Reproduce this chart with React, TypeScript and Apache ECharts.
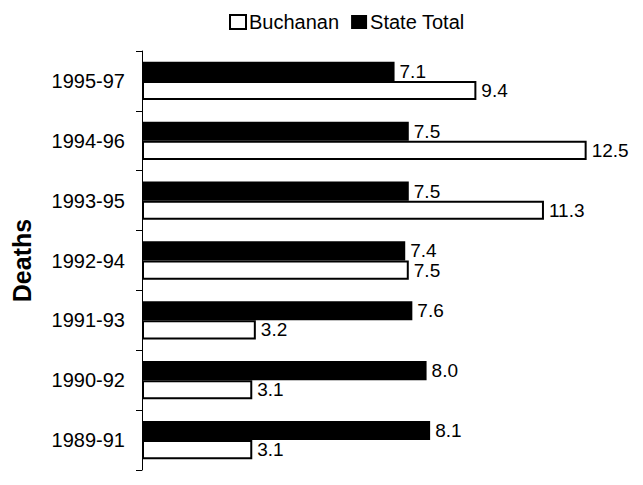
import React, { useEffect, useRef } from "react";
import * as echarts from "echarts";

const categories = ["1989-91", "1990-92", "1991-93", "1992-94", "1993-95", "1994-96", "1995-97"];
const buchanan = [3.1, 3.1, 3.2, 7.5, 11.3, 12.5, 9.4];
const stateTotal = [8.1, 8.0, 7.6, 7.4, 7.5, 7.5, 7.1];

const FONT = "'Liberation Sans', Arial, sans-serif";

export default function App() {
  const ref = useRef<HTMLDivElement>(null);
  useEffect(() => {
    const chart = echarts.init(ref.current!, null, { renderer: "svg" });
    const label = {
      show: true,
      position: "right",
      distance: 5,
      color: "#000",
      fontSize: 19,
      fontFamily: FONT,
      formatter: (p: any) => Number(p.value).toFixed(1),
    };
    chart.setOption({
      animation: false,
      backgroundColor: "#fff",
      legend: {
        top: 7,
        left: 224,
        itemWidth: 16,
        itemHeight: 14,
        itemGap: 12,
        icon: "rect",
        textStyle: { fontSize: 20, fontFamily: FONT, color: "#000", padding: [0, 0, 0, -2] },
        data: ["Buchanan", "State Total"],
      },
      grid: { left: 142, top: 51, bottom: 15, width: 498 },
      xAxis: {
        type: "value",
        min: 0,
        max: 14,
        show: false,
      },
      yAxis: {
        type: "category",
        data: categories,
        name: "Deaths",
        nameLocation: "middle",
        nameRotate: 90,
        nameGap: 108,
        nameTextStyle: { fontSize: 25, fontWeight: "bold", fontFamily: FONT, color: "#000" },
        axisLine: { show: true, lineStyle: { color: "#000", width: 1 } },
        axisTick: { show: true, length: 6, lineStyle: { color: "#000" } },
        axisLabel: { fontSize: 20, fontFamily: FONT, color: "#000", margin: 17 },
        splitLine: { show: false },
      },
      series: [
        {
          name: "State Total",
          type: "bar",
          data: stateTotal,
          barGap: "0%",
          barCategoryGap: "36%",
          itemStyle: { color: "#000" },
          label,
        },
        {
          name: "Buchanan",
          type: "bar",
          data: buchanan,
          barGap: "0%",
          barCategoryGap: "36%",
          itemStyle: { color: "#fff", borderColor: "#000", borderWidth: 2 },
          label,
        },
      ],
    });
    return () => chart.dispose();
  }, []);
  return (
    <div
      ref={ref}
      style={{ position: "absolute", left: 0, top: 0, width: 643, height: 485 }}
    />
  );
}
